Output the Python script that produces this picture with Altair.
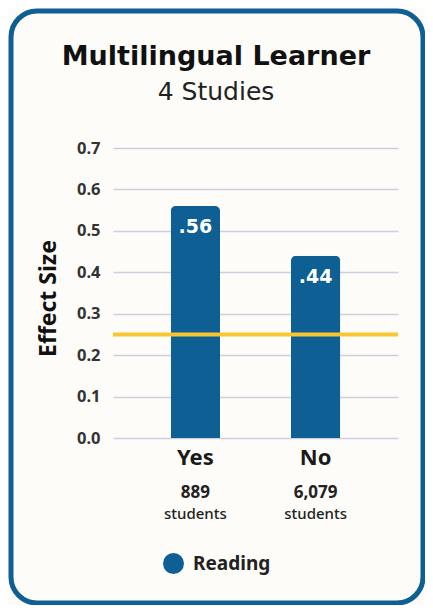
import altair as alt
import pandas as pd

title_text = "Multilingual Learner"
subtitle_text = "4 Studies"
groups = ["Yes", "No"]
effect = [0.56, 0.44]
effect_labels = [".56", ".44"]
students = ["889", "6,079"]
series = ["Reading", "Reading"]
benchmark = 0.25
y_ticks = [0.0, 0.1, 0.2, 0.3, 0.4, 0.5, 0.6, 0.7]

BLUE = "#0d5f94"
YELLOW = "#f8c631"
BG = "#fdfcf8"
FONT = "Noto Sans"
TFONT = "DejaVu Sans"

df = pd.DataFrame({"group": groups, "effect": effect, "label": effect_labels,
                   "students": students, "series": series})
tdf = pd.DataFrame({"title": [title_text], "subtitle": [subtitle_text]})

x_enc = alt.X("group:N", sort=groups,
              scale=alt.Scale(paddingInner=0.59, paddingOuter=0.48),
              axis=alt.Axis(title=None, labelAngle=0, labelFont=FONT, labelFontSize=22,
                            labelFontWeight="bold", labelColor="#1a1a1a", labelPadding=9,
                            ticks=False, domain=False, grid=False))
y_enc = alt.Y("effect:Q", scale=alt.Scale(domain=[0, 0.7], nice=False),
              axis=alt.Axis(values=y_ticks, format=".1f", title="Effect Size",
                            titleFont=FONT, titleFontSize=23, titleFontWeight="bold",
                            titleColor="#111", titleX=-65, titleY=150, titleAngle=-90,
                            titleAlign="center", titleBaseline="middle",
                            labelFont=FONT, labelFontSize=16.5, labelFontWeight="bold",
                            labelColor="#333", labelPadding=13, ticks=False, domain=False,
                            grid=True, gridColor="#cfcde0", gridWidth=1.5))

base = alt.Chart(df)
tbase = alt.Chart(tdf)

card = tbase.mark_rect(
    fill=None, stroke=BLUE, strokeWidth=5, cornerRadius=26
).encode(x=alt.value(-102), x2=alt.value(310), y=alt.value(-137), y2=alt.value(455))

title = tbase.mark_text(font=TFONT, fontSize=27, fontWeight="bold", color="#111",
                        align="center", baseline="alphabetic").encode(
    x=alt.value(103), y=alt.value(-83), text="title:N")
subtitle = tbase.mark_text(font=TFONT, fontSize=25, fontWeight="normal", color="#222",
                           align="center", baseline="alphabetic").encode(
    x=alt.value(103), y=alt.value(-48), text="subtitle:N")

bars = base.mark_bar(cornerRadiusTopLeft=5, cornerRadiusTopRight=5).encode(
    x=x_enc, y=y_enc,
    color=alt.Color("series:N", scale=alt.Scale(domain=["Reading"], range=[BLUE]),
                    legend=alt.Legend(title=None, orient="none", legendX=50, legendY=405,
                                      symbolType="circle", symbolSize=440,
                                      symbolStrokeWidth=0, labelFont=FONT,
                                      labelFontSize=19, labelFontWeight="bold",
                                      labelColor="#222", labelOffset=9, padding=0))
)

rule = alt.Chart(pd.DataFrame({"b": [benchmark]})).mark_rule(
    color=YELLOW, strokeWidth=4).encode(y=alt.Y("b:Q"))

vals = base.mark_text(color="white", font=TFONT, fontSize=19, fontWeight="bold",
                      baseline="middle", dy=21).encode(
    x=alt.X("group:N", sort=groups), y=alt.Y("effect:Q"), text="label:N")

counts = base.mark_text(color="#222", font=FONT, fontSize=17, fontWeight="bold",
                        baseline="middle").encode(
    x=alt.X("group:N", sort=groups), y=alt.value(345), text="students:N")

stud = base.mark_text(color="#222", font=FONT, fontSize=15, fontWeight=500,
                      baseline="middle").encode(
    x=alt.X("group:N", sort=groups), y=alt.value(366), text=alt.value("students"))

chart = alt.layer(card, title, subtitle, bars, rule, vals, counts, stud).properties(
    width=285, height=290,
    autosize=alt.AutoSizeParams(type="none"),
    padding={"left": 105, "top": 140, "right": 27, "bottom": 167},
    background=BG,
).configure_view(stroke=None)

chart.save("out.html", embed_options={"renderer": "svg", "actions": False})
